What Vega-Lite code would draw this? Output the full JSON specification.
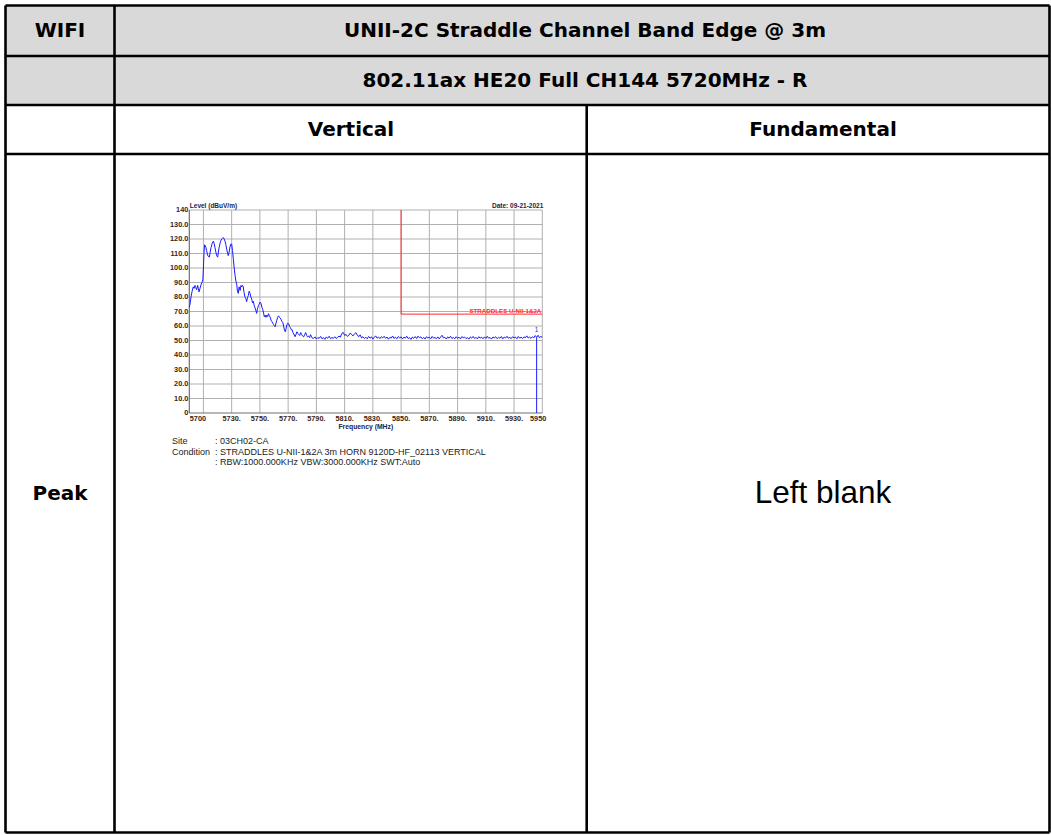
{
  "$schema": "https://vega.github.io/schema/vega-lite/v6.json",
  "width": 1051,
  "height": 835,
  "autosize": {"type": "none"},
  "padding": 0,
  "background": "white",
  "config": {"view": {"stroke": null}},
  "datasets": {
    "fills": [{"x1": 5.5, "x2": 1049.5, "y1": 5.5, "y2": 105}],
    "borders": [
      {"x1": 5.5, "x2": 1049.5, "y1": 5.5, "y2": 5.5},
      {"x1": 5.5, "x2": 1049.5, "y1": 56, "y2": 56},
      {"x1": 5.5, "x2": 1049.5, "y1": 105, "y2": 105},
      {"x1": 5.5, "x2": 1049.5, "y1": 154, "y2": 154},
      {"x1": 5.5, "x2": 1049.5, "y1": 832.5, "y2": 832.5},
      {"x1": 5.5, "x2": 5.5, "y1": 5.5, "y2": 832.5},
      {"x1": 114.5, "x2": 114.5, "y1": 5.5, "y2": 832.5},
      {"x1": 586.7, "x2": 586.7, "y1": 105, "y2": 832.5},
      {"x1": 1049.5, "x2": 1049.5, "y1": 5.5, "y2": 832.5}
    ],
    "heads": [
      {"t": "WIFI", "x": 60, "y": 31},
      {"t": "UNII-2C Straddle Channel Band Edge @ 3m", "x": 585, "y": 31},
      {"t": "802.11ax HE20 Full CH144 5720MHz - R", "x": 585, "y": 81},
      {"t": "Vertical", "x": 351, "y": 129.5},
      {"t": "Fundamental", "x": 823, "y": 129.5},
      {"t": "Peak", "x": 60, "y": 494}
    ],
    "plain": [{"t": "Left blank", "x": 823, "y": 494}],
    "info": [
      {"t": "Site", "x": 172, "y": 441},
      {"t": ": 03CH02-CA", "x": 215, "y": 441},
      {"t": "Condition", "x": 172, "y": 451.5},
      {"t": ": STRADDLES U-NII-1&2A 3m HORN 9120D-HF_02113 VERTICAL", "x": 215, "y": 451.5},
      {"t": ": RBW:1000.000KHz VBW:3000.000KHz SWT:Auto", "x": 215, "y": 462}
    ],
    "vgrid": [{"f": 5710}, {"f": 5730}, {"f": 5750}, {"f": 5770}, {"f": 5790}, {"f": 5810}, {"f": 5830}, {"f": 5850}, {"f": 5870}, {"f": 5890}, {"f": 5910}, {"f": 5930}, {"f": 5950}],
    "hgrid": [{"lv": 10}, {"lv": 20}, {"lv": 30}, {"lv": 40}, {"lv": 50}, {"lv": 60}, {"lv": 70}, {"lv": 80}, {"lv": 90}, {"lv": 100}, {"lv": 110}, {"lv": 120}, {"lv": 130}, {"lv": 140}],
    "ylab": [{"lv": 140, "label": "140"}, {"lv": 130, "label": "130.0"}, {"lv": 120, "label": "120.0"}, {"lv": 110, "label": "110.0"}, {"lv": 100, "label": "100.0"}, {"lv": 90, "label": "90.0"}, {"lv": 80, "label": "80.0"}, {"lv": 70, "label": "70.0"}, {"lv": 60, "label": "60.0"}, {"lv": 50, "label": "50.0"}, {"lv": 40, "label": "40.0"}, {"lv": 30, "label": "30.0"}, {"lv": 20, "label": "20.0"}, {"lv": 10, "label": "10.0"}, {"lv": 0, "label": "0"}],
    "xlab": [{"f": 5730, "label": "5730."}, {"f": 5750, "label": "5750."}, {"f": 5770, "label": "5770."}, {"f": 5790, "label": "5790."}, {"f": 5810, "label": "5810."}, {"f": 5830, "label": "5830."}, {"f": 5850, "label": "5850."}, {"f": 5870, "label": "5870."}, {"f": 5890, "label": "5890."}, {"f": 5910, "label": "5910."}, {"f": 5930, "label": "5930."}],
    "limit": [{"f": 5850, "lv": 140}, {"f": 5850, "lv": 68.2}, {"f": 5950, "lv": 68.2}],
    "marker": [{"f": 5946, "lv": 52.2, "label": "1"}],
    "trace": [
      {"f": 5700.0, "lv": 73}, {"f": 5700.5, "lv": 75}, {"f": 5701.2, "lv": 80}, {"f": 5702.0, "lv": 84}, {"f": 5702.8, "lv": 87}, {"f": 5703.4, "lv": 86}, {"f": 5704.0, "lv": 88}, {"f": 5704.6, "lv": 86.5}, {"f": 5705.2, "lv": 85}, {"f": 5705.9, "lv": 88}, {"f": 5706.4, "lv": 86}, {"f": 5706.9, "lv": 83.5}, {"f": 5707.6, "lv": 86}, {"f": 5708.3, "lv": 88.5}, {"f": 5709.2, "lv": 90.5}, {"f": 5709.6, "lv": 92}, {"f": 5710.0, "lv": 100}, {"f": 5710.4, "lv": 110}, {"f": 5710.8, "lv": 116}, {"f": 5711.3, "lv": 115.5}, {"f": 5711.8, "lv": 114}, {"f": 5712.3, "lv": 112}, {"f": 5712.9, "lv": 109}, {"f": 5713.5, "lv": 108}, {"f": 5714.2, "lv": 107.5}, {"f": 5714.8, "lv": 111}, {"f": 5715.4, "lv": 114}, {"f": 5716.2, "lv": 117}, {"f": 5717.0, "lv": 118.5}, {"f": 5717.6, "lv": 117}, {"f": 5718.2, "lv": 114}, {"f": 5718.8, "lv": 111}, {"f": 5719.4, "lv": 108.5}, {"f": 5720.1, "lv": 107.5}, {"f": 5720.6, "lv": 111}, {"f": 5721.2, "lv": 114.5}, {"f": 5722.0, "lv": 118}, {"f": 5722.9, "lv": 120}, {"f": 5723.5, "lv": 120.5}, {"f": 5724.1, "lv": 121}, {"f": 5724.7, "lv": 120}, {"f": 5725.3, "lv": 118.5}, {"f": 5725.9, "lv": 116}, {"f": 5726.5, "lv": 113}, {"f": 5727.1, "lv": 110}, {"f": 5727.6, "lv": 108.5}, {"f": 5728.2, "lv": 111}, {"f": 5728.8, "lv": 114.5}, {"f": 5729.4, "lv": 116.5}, {"f": 5730.0, "lv": 116.5}, {"f": 5730.6, "lv": 112}, {"f": 5731.2, "lv": 106}, {"f": 5731.8, "lv": 100}, {"f": 5732.4, "lv": 95}, {"f": 5733.0, "lv": 91}, {"f": 5733.6, "lv": 88.5}, {"f": 5734.1, "lv": 84}, {"f": 5734.7, "lv": 82.5}, {"f": 5735.3, "lv": 87}, {"f": 5736.0, "lv": 84.5}, {"f": 5736.6, "lv": 88}, {"f": 5737.1, "lv": 87}, {"f": 5737.7, "lv": 88}, {"f": 5738.2, "lv": 87}, {"f": 5738.8, "lv": 83}, {"f": 5739.4, "lv": 80}, {"f": 5740.0, "lv": 79}, {"f": 5740.6, "lv": 76.8}, {"f": 5741.2, "lv": 79.5}, {"f": 5741.8, "lv": 81}, {"f": 5742.4, "lv": 84}, {"f": 5743.0, "lv": 82.5}, {"f": 5743.6, "lv": 80}, {"f": 5744.2, "lv": 78.5}, {"f": 5744.8, "lv": 76}, {"f": 5745.4, "lv": 77}, {"f": 5746.0, "lv": 74}, {"f": 5746.6, "lv": 72.5}, {"f": 5747.2, "lv": 70.5}, {"f": 5747.7, "lv": 68.7}, {"f": 5748.3, "lv": 72}, {"f": 5748.9, "lv": 74}, {"f": 5749.5, "lv": 75}, {"f": 5750.2, "lv": 76.5}, {"f": 5750.8, "lv": 75.6}, {"f": 5751.4, "lv": 73}, {"f": 5752.0, "lv": 71.5}, {"f": 5752.6, "lv": 69}, {"f": 5753.1, "lv": 66.4}, {"f": 5753.7, "lv": 67.5}, {"f": 5754.3, "lv": 66}, {"f": 5754.9, "lv": 67.5}, {"f": 5755.5, "lv": 66.5}, {"f": 5756.1, "lv": 68.5}, {"f": 5756.7, "lv": 67}, {"f": 5757.3, "lv": 66}, {"f": 5757.9, "lv": 64}, {"f": 5758.5, "lv": 63}, {"f": 5759.1, "lv": 62}, {"f": 5759.7, "lv": 61}, {"f": 5760.3, "lv": 60}, {"f": 5760.8, "lv": 59.5}, {"f": 5761.4, "lv": 62}, {"f": 5762.0, "lv": 64}, {"f": 5762.6, "lv": 66}, {"f": 5763.2, "lv": 67}, {"f": 5763.8, "lv": 66}, {"f": 5764.4, "lv": 65.5}, {"f": 5765.0, "lv": 64.5}, {"f": 5765.6, "lv": 63}, {"f": 5766.2, "lv": 62.5}, {"f": 5766.8, "lv": 60}, {"f": 5767.4, "lv": 57}, {"f": 5768.0, "lv": 56}, {"f": 5768.6, "lv": 58.5}, {"f": 5769.2, "lv": 61}, {"f": 5769.8, "lv": 62}, {"f": 5770.4, "lv": 61.5}, {"f": 5771.0, "lv": 59.5}, {"f": 5771.6, "lv": 59}, {"f": 5772.2, "lv": 57.5}, {"f": 5772.8, "lv": 57.5}, {"f": 5773.4, "lv": 55.5}, {"f": 5774.0, "lv": 54.5}, {"f": 5774.9, "lv": 52.6}, {"f": 5775.5, "lv": 54}, {"f": 5776.2, "lv": 56}, {"f": 5776.8, "lv": 55}, {"f": 5777.5, "lv": 54}, {"f": 5778.2, "lv": 53.5}, {"f": 5778.9, "lv": 55.5}, {"f": 5779.6, "lv": 54}, {"f": 5780.3, "lv": 53}, {"f": 5781.0, "lv": 52.5}, {"f": 5781.7, "lv": 54}, {"f": 5782.4, "lv": 55.5}, {"f": 5783.1, "lv": 53.5}, {"f": 5783.8, "lv": 52.5}, {"f": 5784.5, "lv": 53}, {"f": 5785.2, "lv": 52}, {"f": 5785.9, "lv": 54}, {"f": 5786.6, "lv": 52.5}, {"f": 5787.3, "lv": 51.5}, {"f": 5788.0, "lv": 51.5},
      {"f": 5789, "lv": 52.5}, {"f": 5790, "lv": 51}, {"f": 5791, "lv": 52}, {"f": 5792, "lv": 51.5}, {"f": 5793, "lv": 52.8}, {"f": 5794, "lv": 51.2}, {"f": 5795, "lv": 52}, {"f": 5796, "lv": 50.8}, {"f": 5797, "lv": 52.4}, {"f": 5798, "lv": 51.6}, {"f": 5799, "lv": 52.9}, {"f": 5800, "lv": 51.3}, {"f": 5801, "lv": 52}, {"f": 5802, "lv": 51.5}, {"f": 5803, "lv": 52.6}, {"f": 5804, "lv": 51.4}, {"f": 5805, "lv": 52.2}, {"f": 5806, "lv": 53}, {"f": 5807, "lv": 52.4}, {"f": 5808, "lv": 54.8}, {"f": 5809, "lv": 55.6}, {"f": 5810, "lv": 53.5}, {"f": 5811, "lv": 54.2}, {"f": 5812, "lv": 52.8}, {"f": 5813, "lv": 53.6}, {"f": 5814, "lv": 55.2}, {"f": 5815, "lv": 54}, {"f": 5816, "lv": 53.2}, {"f": 5817, "lv": 54.6}, {"f": 5818, "lv": 55.4}, {"f": 5819, "lv": 53.8}, {"f": 5820, "lv": 52.6}, {"f": 5821, "lv": 53.9}, {"f": 5822, "lv": 51.8}, {"f": 5823, "lv": 52.6}, {"f": 5824, "lv": 51.4}, {"f": 5825, "lv": 52.3}, {"f": 5826, "lv": 51.2}, {"f": 5827, "lv": 52.8}, {"f": 5828, "lv": 51.6}, {"f": 5829, "lv": 52.5}, {"f": 5830, "lv": 51}, {"f": 5831, "lv": 52.2}, {"f": 5832, "lv": 53.2}, {"f": 5833, "lv": 51.6}, {"f": 5834, "lv": 52.4}, {"f": 5835, "lv": 51.3}, {"f": 5836, "lv": 52.6}, {"f": 5837, "lv": 51.8}, {"f": 5838, "lv": 52.9}, {"f": 5839, "lv": 51.5}, {"f": 5840, "lv": 52.4}, {"f": 5841, "lv": 50.9}, {"f": 5842, "lv": 52.1}, {"f": 5843, "lv": 51.7}, {"f": 5844, "lv": 53.1}, {"f": 5845, "lv": 51.4}, {"f": 5846, "lv": 52.3}, {"f": 5847, "lv": 51.2}, {"f": 5848, "lv": 52.7}, {"f": 5849, "lv": 51.8}, {"f": 5850, "lv": 52.5}, {"f": 5851, "lv": 51.1}, {"f": 5852, "lv": 52.3}, {"f": 5853, "lv": 51.6}, {"f": 5854, "lv": 52.9}, {"f": 5855, "lv": 51.3}, {"f": 5856, "lv": 52}, {"f": 5857, "lv": 50.8}, {"f": 5858, "lv": 52.4}, {"f": 5859, "lv": 51.5}, {"f": 5860, "lv": 52.7}, {"f": 5861, "lv": 51.4}, {"f": 5862, "lv": 53}, {"f": 5863, "lv": 51.9}, {"f": 5864, "lv": 52.5}, {"f": 5865, "lv": 51.2}, {"f": 5866, "lv": 52.2}, {"f": 5867, "lv": 51}, {"f": 5868, "lv": 52.6}, {"f": 5869, "lv": 51.7}, {"f": 5870, "lv": 52.3}, {"f": 5871, "lv": 51.2}, {"f": 5872, "lv": 52.8}, {"f": 5873, "lv": 51.6}, {"f": 5874, "lv": 52}, {"f": 5875, "lv": 51.3}, {"f": 5876, "lv": 52.5}, {"f": 5877, "lv": 51.1}, {"f": 5878, "lv": 52.4}, {"f": 5879, "lv": 53.6}, {"f": 5880, "lv": 51.8}, {"f": 5881, "lv": 52.2}, {"f": 5882, "lv": 51}, {"f": 5883, "lv": 52.5}, {"f": 5884, "lv": 51.6}, {"f": 5885, "lv": 52.9}, {"f": 5886, "lv": 51.4}, {"f": 5887, "lv": 52.1}, {"f": 5888, "lv": 51.2}, {"f": 5889, "lv": 52.6}, {"f": 5890, "lv": 51.5}, {"f": 5891, "lv": 52.3}, {"f": 5892, "lv": 51.1}, {"f": 5893, "lv": 52.7}, {"f": 5894, "lv": 51.9}, {"f": 5895, "lv": 52.4}, {"f": 5896, "lv": 51.3}, {"f": 5897, "lv": 52}, {"f": 5898, "lv": 50.9}, {"f": 5899, "lv": 52.5}, {"f": 5900, "lv": 51.6}, {"f": 5901, "lv": 52.8}, {"f": 5902, "lv": 51.4}, {"f": 5903, "lv": 52.2}, {"f": 5904, "lv": 51.1}, {"f": 5905, "lv": 52.6}, {"f": 5906, "lv": 51.7}, {"f": 5907, "lv": 52.3}, {"f": 5908, "lv": 51.2}, {"f": 5909, "lv": 52.5}, {"f": 5910, "lv": 51.4}, {"f": 5911, "lv": 52.9}, {"f": 5912, "lv": 51.6}, {"f": 5913, "lv": 52.1}, {"f": 5914, "lv": 51}, {"f": 5915, "lv": 52.4}, {"f": 5916, "lv": 51.8}, {"f": 5917, "lv": 52.6}, {"f": 5918, "lv": 51.3}, {"f": 5919, "lv": 52.2}, {"f": 5920, "lv": 51.5}, {"f": 5921, "lv": 52.7}, {"f": 5922, "lv": 51.1}, {"f": 5923, "lv": 52.4}, {"f": 5924, "lv": 51.7}, {"f": 5925, "lv": 52.9}, {"f": 5926, "lv": 51.5}, {"f": 5927, "lv": 52.2}, {"f": 5928, "lv": 51.3}, {"f": 5929, "lv": 52.6}, {"f": 5930, "lv": 51.8}, {"f": 5931, "lv": 52.4}, {"f": 5932, "lv": 51.2}, {"f": 5933, "lv": 52.8}, {"f": 5934, "lv": 51.6}, {"f": 5935, "lv": 52.3}, {"f": 5936, "lv": 51.4}, {"f": 5937, "lv": 52.5}, {"f": 5938, "lv": 51.9}, {"f": 5939, "lv": 53.2}, {"f": 5940, "lv": 51.7}, {"f": 5941, "lv": 52.4}, {"f": 5942, "lv": 51.5}, {"f": 5943, "lv": 52.6}, {"f": 5944, "lv": 51.8}, {"f": 5945, "lv": 53.4}, {"f": 5946, "lv": 52.2}, {"f": 5947, "lv": 53.6}, {"f": 5948, "lv": 51.9}, {"f": 5949, "lv": 52.8}, {"f": 5950, "lv": 52.2}
    ]
  },
  "layer": [
    {
      "layer": [
        {
          "data": {"name": "fills"},
          "mark": {"type": "rect", "color": "#d9d9d9"},
          "encoding": {
            "x": {"field": "x1", "type": "quantitative", "scale": {"domain": [0, 1051], "range": [0, 1051], "nice": false, "zero": false}, "axis": null},
            "x2": {"field": "x2"},
            "y": {"field": "y1", "type": "quantitative", "scale": {"domain": [0, 835], "range": [0, 835], "nice": false, "zero": false}, "axis": null},
            "y2": {"field": "y2"}
          }
        },
        {
          "data": {"name": "borders"},
          "mark": {"type": "rule", "color": "#000000", "strokeWidth": 2.6},
          "encoding": {
            "x": {"field": "x1", "type": "quantitative", "scale": {"domain": [0, 1051], "range": [0, 1051], "nice": false, "zero": false}, "axis": null},
            "x2": {"field": "x2"},
            "y": {"field": "y1", "type": "quantitative", "scale": {"domain": [0, 835], "range": [0, 835], "nice": false, "zero": false}, "axis": null},
            "y2": {"field": "y2"}
          }
        },
        {
          "data": {"name": "heads"},
          "mark": {"type": "text", "font": "DejaVu Sans", "fontWeight": "bold", "fontSize": 20, "color": "#000000", "align": "center", "baseline": "middle"},
          "encoding": {
            "x": {"field": "x", "type": "quantitative", "scale": {"domain": [0, 1051], "range": [0, 1051], "nice": false, "zero": false}, "axis": null},
            "y": {"field": "y", "type": "quantitative", "scale": {"domain": [0, 835], "range": [0, 835], "nice": false, "zero": false}, "axis": null},
            "text": {"field": "t"}
          }
        },
        {
          "data": {"name": "plain"},
          "mark": {"type": "text", "font": "Liberation Sans", "fontSize": 31.5, "color": "#000000", "align": "center", "baseline": "middle"},
          "encoding": {
            "x": {"field": "x", "type": "quantitative", "scale": {"domain": [0, 1051], "range": [0, 1051], "nice": false, "zero": false}, "axis": null},
            "y": {"field": "y", "type": "quantitative", "scale": {"domain": [0, 835], "range": [0, 835], "nice": false, "zero": false}, "axis": null},
            "text": {"field": "t"}
          }
        },
        {
          "data": {"name": "info"},
          "mark": {"type": "text", "font": "Liberation Sans", "fontSize": 9, "color": "#222222", "align": "left", "baseline": "middle"},
          "encoding": {
            "x": {"field": "x", "type": "quantitative", "scale": {"domain": [0, 1051], "range": [0, 1051], "nice": false, "zero": false}, "axis": null},
            "y": {"field": "y", "type": "quantitative", "scale": {"domain": [0, 835], "range": [0, 835], "nice": false, "zero": false}, "axis": null},
            "text": {"field": "t"}
          }
        }
      ]
    },
    {
      "layer": [
        {
          "data": {"name": "hgrid"},
          "mark": {"type": "rule", "color": "#b0b0b0", "strokeWidth": 1},
          "encoding": {
            "y": {"field": "lv", "type": "quantitative", "scale": {"domain": [0, 140], "range": [413, 210], "nice": false, "zero": false}, "axis": null},
            "x": {"datum": 5700, "type": "quantitative", "scale": {"domain": [5700, 5950], "range": [189.3, 542.3], "nice": false, "zero": false}, "axis": null},
            "x2": {"datum": 5950}
          }
        },
        {
          "data": {"name": "vgrid"},
          "mark": {"type": "rule", "color": "#b0b0b0", "strokeWidth": 1},
          "encoding": {
            "x": {"field": "f", "type": "quantitative", "scale": {"domain": [5700, 5950], "range": [189.3, 542.3], "nice": false, "zero": false}, "axis": null},
            "y": {"datum": 0, "type": "quantitative", "scale": {"domain": [0, 140], "range": [413, 210], "nice": false, "zero": false}, "axis": null},
            "y2": {"datum": 140}
          }
        },
        {
          "data": {"values": [{"side": "left"}]},
          "mark": {"type": "rule", "color": "#707070", "strokeWidth": 1.2},
          "encoding": {
            "x": {"datum": 5700, "type": "quantitative", "scale": {"domain": [5700, 5950], "range": [189.3, 542.3], "nice": false, "zero": false}, "axis": null},
            "y": {"datum": 0, "type": "quantitative", "scale": {"domain": [0, 140], "range": [413, 210], "nice": false, "zero": false}, "axis": null},
            "y2": {"datum": 140}
          }
        },
        {
          "data": {"values": [{"side": "bottom"}]},
          "mark": {"type": "rule", "color": "#707070", "strokeWidth": 1.2},
          "encoding": {
            "y": {"datum": 0, "type": "quantitative", "scale": {"domain": [0, 140], "range": [413, 210], "nice": false, "zero": false}, "axis": null},
            "x": {"datum": 5700, "type": "quantitative", "scale": {"domain": [5700, 5950], "range": [189.3, 542.3], "nice": false, "zero": false}, "axis": null},
            "x2": {"datum": 5950}
          }
        },
        {
          "data": {"name": "limit"},
          "mark": {"type": "line", "color": "#ff2a2a", "strokeWidth": 1},
          "encoding": {
            "x": {"field": "f", "type": "quantitative", "scale": {"domain": [5700, 5950], "range": [189.3, 542.3], "nice": false, "zero": false}, "axis": null},
            "y": {"field": "lv", "type": "quantitative", "scale": {"domain": [0, 140], "range": [413, 210], "nice": false, "zero": false}, "axis": null},
            "order": {"field": "lv", "sort": "descending"}
          }
        },
        {
          "data": {"name": "trace"},
          "mark": {"type": "line", "color": "#1a1aff", "strokeWidth": 1},
          "encoding": {
            "x": {"field": "f", "type": "quantitative", "scale": {"domain": [5700, 5950], "range": [189.3, 542.3], "nice": false, "zero": false}, "axis": null},
            "y": {"field": "lv", "type": "quantitative", "scale": {"domain": [0, 140], "range": [413, 210], "nice": false, "zero": false}, "axis": null}
          }
        },
        {
          "data": {"name": "marker"},
          "mark": {"type": "rule", "color": "#1a1aff", "strokeWidth": 1},
          "encoding": {
            "x": {"field": "f", "type": "quantitative", "scale": {"domain": [5700, 5950], "range": [189.3, 542.3], "nice": false, "zero": false}, "axis": null},
            "y": {"field": "lv", "type": "quantitative", "scale": {"domain": [0, 140], "range": [413, 210], "nice": false, "zero": false}, "axis": null},
            "y2": {"datum": 0}
          }
        },
        {
          "data": {"name": "marker"},
          "mark": {"type": "text", "color": "#1a1aff", "font": "Liberation Sans", "fontSize": 6.5, "align": "center", "baseline": "middle", "dy": -7},
          "encoding": {
            "x": {"field": "f", "type": "quantitative", "scale": {"domain": [5700, 5950], "range": [189.3, 542.3], "nice": false, "zero": false}, "axis": null},
            "y": {"field": "lv", "type": "quantitative", "scale": {"domain": [0, 140], "range": [413, 210], "nice": false, "zero": false}, "axis": null},
            "text": {"field": "label"}
          }
        },
        {
          "data": {"name": "ylab"},
          "mark": {"type": "text", "color": "#3b2314", "font": "Liberation Sans", "fontWeight": "bold", "fontSize": 7.3, "align": "right", "baseline": "middle", "dx": -1},
          "encoding": {
            "x": {"datum": 5700, "type": "quantitative", "scale": {"domain": [5700, 5950], "range": [189.3, 542.3], "nice": false, "zero": false}, "axis": null},
            "y": {"field": "lv", "type": "quantitative", "scale": {"domain": [0, 140], "range": [413, 210], "nice": false, "zero": false}, "axis": null},
            "text": {"field": "label"}
          }
        },
        {
          "data": {"name": "xlab"},
          "mark": {"type": "text", "color": "#3b2314", "font": "Liberation Sans", "fontWeight": "bold", "fontSize": 7.3, "align": "center", "baseline": "middle", "dy": 5.5},
          "encoding": {
            "x": {"field": "f", "type": "quantitative", "scale": {"domain": [5700, 5950], "range": [189.3, 542.3], "nice": false, "zero": false}, "axis": null},
            "y": {"datum": 0, "type": "quantitative", "scale": {"domain": [0, 140], "range": [413, 210], "nice": false, "zero": false}, "axis": null},
            "text": {"field": "label"}
          }
        },
        {
          "data": {"values": [{"label": "5700"}]},
          "mark": {"type": "text", "color": "#3b2314", "font": "Liberation Sans", "fontWeight": "bold", "fontSize": 7.3, "align": "left", "baseline": "middle", "dy": 5.5, "dx": 0.5},
          "encoding": {
            "x": {"datum": 5700, "type": "quantitative", "scale": {"domain": [5700, 5950], "range": [189.3, 542.3], "nice": false, "zero": false}, "axis": null},
            "y": {"datum": 0, "type": "quantitative", "scale": {"domain": [0, 140], "range": [413, 210], "nice": false, "zero": false}, "axis": null},
            "text": {"field": "label"}
          }
        },
        {
          "data": {"values": [{"label": "5950"}]},
          "mark": {"type": "text", "color": "#3b2314", "font": "Liberation Sans", "fontWeight": "bold", "fontSize": 7.3, "align": "right", "baseline": "middle", "dy": 5.5, "dx": 4},
          "encoding": {
            "x": {"datum": 5950, "type": "quantitative", "scale": {"domain": [5700, 5950], "range": [189.3, 542.3], "nice": false, "zero": false}, "axis": null},
            "y": {"datum": 0, "type": "quantitative", "scale": {"domain": [0, 140], "range": [413, 210], "nice": false, "zero": false}, "axis": null},
            "text": {"field": "label"}
          }
        },
        {
          "data": {"values": [{"label": "Frequency (MHz)"}]},
          "mark": {"type": "text", "color": "#23234a", "font": "Liberation Sans", "fontWeight": "bold", "fontSize": 6.8, "align": "center", "baseline": "middle", "dy": 13.5},
          "encoding": {
            "x": {"datum": 5825, "type": "quantitative", "scale": {"domain": [5700, 5950], "range": [189.3, 542.3], "nice": false, "zero": false}, "axis": null},
            "y": {"datum": 0, "type": "quantitative", "scale": {"domain": [0, 140], "range": [413, 210], "nice": false, "zero": false}, "axis": null},
            "text": {"field": "label"}
          }
        },
        {
          "data": {"values": [{"label": "Level (dBuV/m)"}]},
          "mark": {"type": "text", "color": "#23234a", "font": "Liberation Sans", "fontWeight": "bold", "fontSize": 6.5, "align": "left", "baseline": "middle", "dy": -3.8, "dx": 0.5},
          "encoding": {
            "x": {"datum": 5700, "type": "quantitative", "scale": {"domain": [5700, 5950], "range": [189.3, 542.3], "nice": false, "zero": false}, "axis": null},
            "y": {"datum": 140, "type": "quantitative", "scale": {"domain": [0, 140], "range": [413, 210], "nice": false, "zero": false}, "axis": null},
            "text": {"field": "label"}
          }
        },
        {
          "data": {"values": [{"label": "Date: 09-21-2021"}]},
          "mark": {"type": "text", "color": "#23234a", "font": "Liberation Sans", "fontWeight": "bold", "fontSize": 6.5, "align": "right", "baseline": "middle", "dy": -4.5, "dx": 1},
          "encoding": {
            "x": {"datum": 5950, "type": "quantitative", "scale": {"domain": [5700, 5950], "range": [189.3, 542.3], "nice": false, "zero": false}, "axis": null},
            "y": {"datum": 140, "type": "quantitative", "scale": {"domain": [0, 140], "range": [413, 210], "nice": false, "zero": false}, "axis": null},
            "text": {"field": "label"}
          }
        },
        {
          "data": {"values": [{"label": "STRADDLES U-NII-1&2A"}]},
          "mark": {"type": "text", "color": "#ff2a2a", "font": "Liberation Sans", "fontWeight": "bold", "fontSize": 6.2, "align": "right", "baseline": "middle", "dy": -3.5, "dx": -1},
          "encoding": {
            "x": {"datum": 5950, "type": "quantitative", "scale": {"domain": [5700, 5950], "range": [189.3, 542.3], "nice": false, "zero": false}, "axis": null},
            "y": {"datum": 68.2, "type": "quantitative", "scale": {"domain": [0, 140], "range": [413, 210], "nice": false, "zero": false}, "axis": null},
            "text": {"field": "label"}
          }
        }
      ]
    }
  ],
  "resolve": {"scale": {"x": "independent", "y": "independent"}}
}
